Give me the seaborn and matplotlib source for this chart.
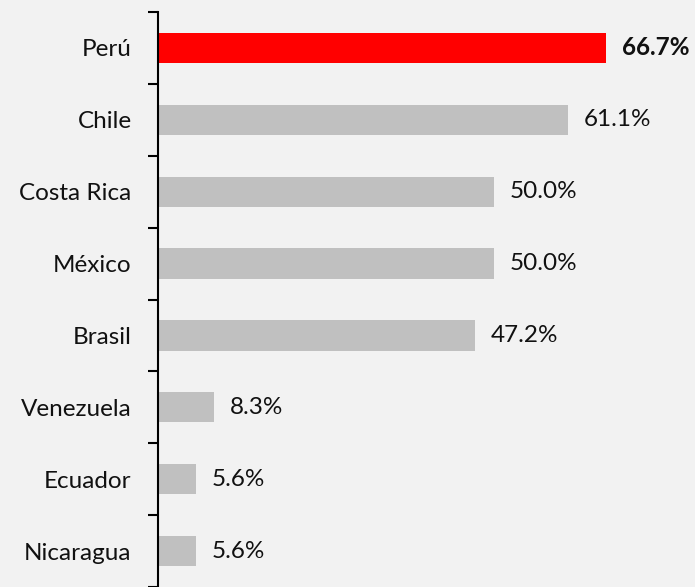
import numpy as np
import pandas as pd
import seaborn as sns
import matplotlib.pyplot as plt
from matplotlib.ticker import FixedLocator

# data
countries = ['Perú', 'Chile', 'Costa Rica', 'México', 'Brasil', 'Venezuela', 'Ecuador', 'Nicaragua']
values = [66.7, 61.1, 50.0, 50.0, 47.2, 8.3, 5.6, 5.6]
bar_colors = ['#ff0000'] + ['#c0c0c0'] * 7

df = pd.DataFrame({'pais': countries, 'valor': values})

sns.set_style('white')
plt.rcParams['font.family'] = ['Lato', 'DejaVu Sans']

fig = plt.figure(figsize=(6.95, 5.87), dpi=100, facecolor='#f2f2f2')
ax = fig.add_axes([158 / 695, 0, 1 - 158 / 695, 1 - 12 / 587])
ax.set_facecolor('#f2f2f2')

sns.barplot(data=df, x='valor', y='pais', hue='pais', palette=bar_colors,
            legend=False, width=0.42, ax=ax, saturation=1, linewidth=0)

# value labels, Perú in bold
for i, v in enumerate(values):
    ax.annotate(f'{v:.1f}%', (v, i), xytext=(11.5, 0), textcoords='offset points',
                va='center', ha='left', fontsize=17.5,
                fontweight='bold' if i == 0 else 'normal', color='#111111')

ax.set_xlim(0, 80)
ax.set_ylim(7.5, -0.5)
ax.set_xlabel('')
ax.set_ylabel('')
ax.set_xticks([])

# tick marks between categories, labels at centers
ax.yaxis.set_minor_locator(FixedLocator(np.arange(-0.5, 8, 1)))
ax.tick_params(axis='y', which='major', length=0, pad=19, labelsize=17.5, labelcolor='#111111')
ax.tick_params(axis='y', which='minor', length=7, width=1.5, color='black', left=True)

for s in ['top', 'right', 'bottom']:
    ax.spines[s].set_visible(False)
ax.spines['left'].set_color('black')
ax.spines['left'].set_linewidth(1.5)

fig.savefig('out.png', dpi=100, facecolor='#f2f2f2')
